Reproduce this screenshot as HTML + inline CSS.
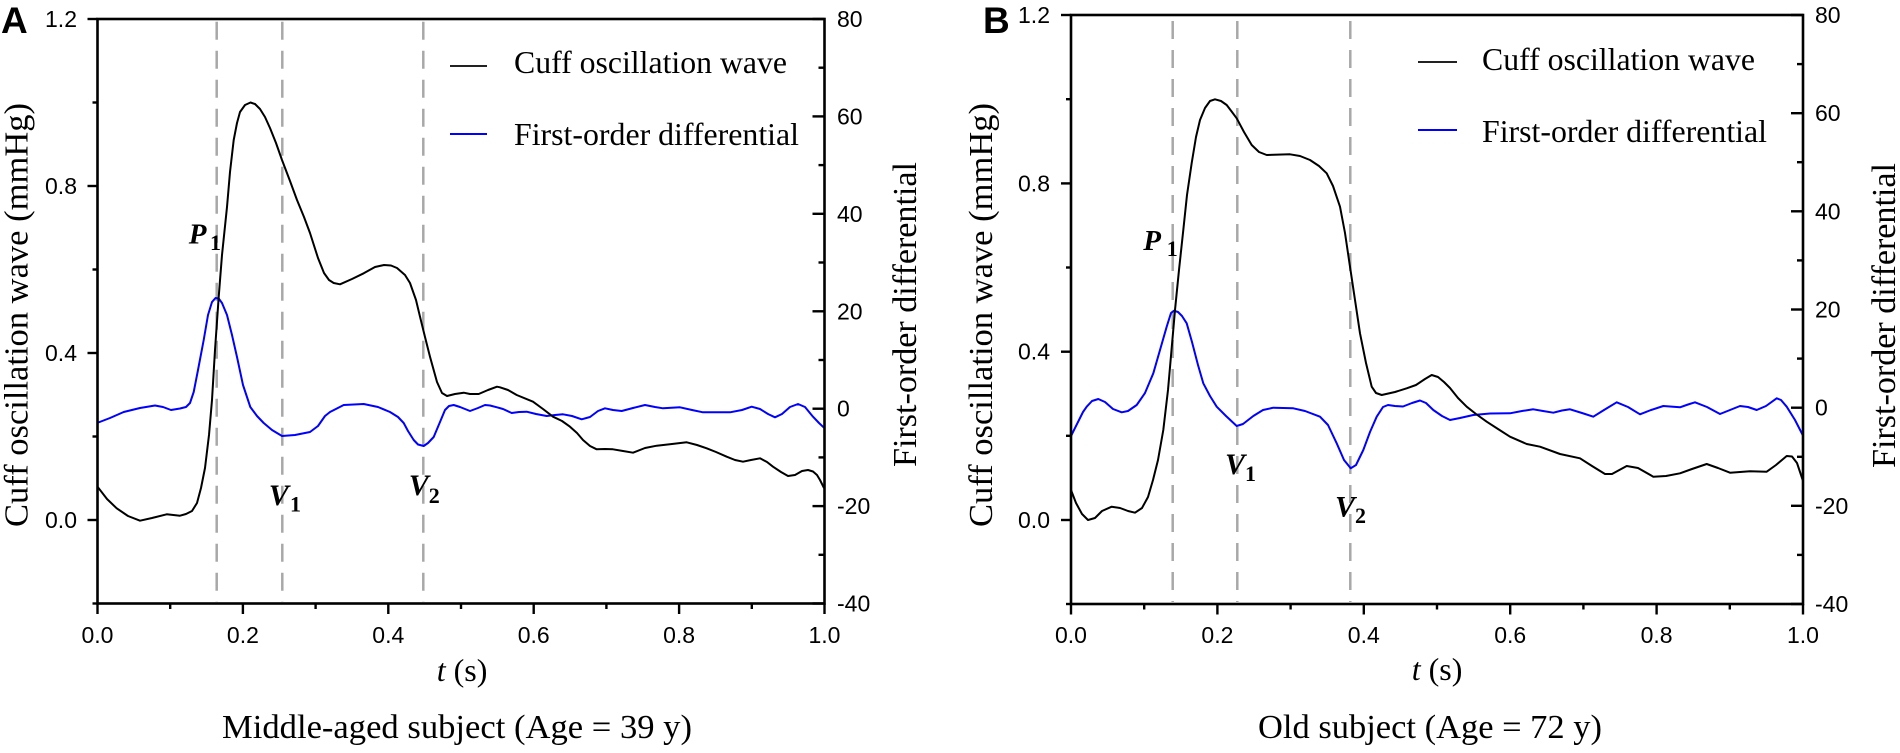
<!DOCTYPE html>
<html><head><meta charset="utf-8"><style>
html,body{margin:0;padding:0;background:#fff;}
svg{display:block;}
.tk{font-family:"Liberation Sans",Arial,sans-serif;font-size:23px;fill:#000;}
.sr{font-family:"Liberation Serif","Times New Roman",serif;fill:#000;}
.lb{font-family:"Liberation Serif","Times New Roman",serif;font-weight:bold;fill:#000;}
</style></head><body>
<svg width="1900" height="753" viewBox="0 0 1900 753" xmlns="http://www.w3.org/2000/svg">
<rect width="1900" height="753" fill="#fff"/>

<!-- ================= PANEL A ================= -->
<g stroke="#a8a8a8" stroke-width="2.5" stroke-dasharray="18 11" fill="none">
<line x1="216.7" y1="21.7" x2="216.7" y2="602"/>
<line x1="282.3" y1="21.7" x2="282.3" y2="602"/>
<line x1="423.3" y1="21.7" x2="423.3" y2="602"/>
</g>
<!-- blue curve A -->
<polyline fill="none" stroke="#0000ff" stroke-width="2" stroke-linejoin="round" points="97,423 110,418 123.7,412 140,408 155,405.5 163,407 171,410 180,408.5 186,407 190,403 193.7,392 198,370 203.7,340 208,315 212,302 215.5,298 218.7,298.5 222,303 227,315 232,335 237,357 243,385 250.3,407 257,416 263.7,423 272,430 282,436 295,435 310,432 318,426 325,416 330,412 343.7,405 363.7,404 378,407 390,412 398,417 403.7,423 408,431 413.7,440 418,444.5 423.7,446 428,443 433.7,437 440,422 445,410 449,406 453.7,405 460,407 470,411 478,408 485,405 490,405.5 497,407.3 503,409 511.7,413 519,412 526.7,411.7 536,414 546.7,416 555,415 563,414.3 572,416 581.7,419.3 590,417 598,411 605,408.3 613,410 621.7,411 633,408 645,405 655,407 663,408.3 680,407.3 692,410 703,412.3 730,412.3 742,410 751.7,406.7 760,409 768,414 775,417.3 782,414 790,407 798,404 805,407 813,416.7 819,423 824,427.7"/>
<!-- black curve A -->
<polyline fill="none" stroke="#000" stroke-width="2" stroke-linejoin="round" points="97.5,486.7 107,499 116.7,508.3 128,516 140,520.7 152,518 166.7,514.3 180,515.7 186,514 192,511 197,503 201,488 205,468 209,435 212,400 215,350 218.7,297 222,255 227,207 230,172 233.7,140 237,123 240,112 245,105 250.5,102.5 255,104 260,109 265,117 270,128 276,143 282,160 290,181 297,200 304,217 310,233 318,258 324,273 329,280 333.7,283 340,284.3 352,279 363.7,273.3 375,267 384,265 391,265.5 397,268 405,275 410,283 416,300 420,316.7 425,337 430,356.7 437,382 442,393 447,396 455,394 463.7,392.7 470,394 478.7,394 488,390 497,386.7 500,387.3 508,390 516.7,395 533,401.7 543,409 553,416.7 562,421 570,426.7 577,433 583,440 590,446 596.7,449.3 605,449 613,449.3 623,451 633,452.7 645,448 656.7,445.7 672,444 686.7,442.3 697,445 706.7,448.3 716,452 726.7,456.7 735,460 743,461.7 751,460 760,458.3 767,462 773,466.7 781,472 788,476 795,475 802,471 808,470 813,471.5 817,475 820,480 824,488"/>
<!-- axes A -->
<g stroke="#000" stroke-width="2.6" fill="none" stroke-linecap="square">
<rect x="97.5" y="19" width="727" height="584.5"/>
</g>
<g stroke="#000" stroke-width="2.4">
<!-- left ticks -->
<line x1="87.5" y1="520" x2="97.5" y2="520"/><line x1="87.5" y1="353" x2="97.5" y2="353"/><line x1="87.5" y1="186" x2="97.5" y2="186"/><line x1="87.5" y1="19" x2="97.5" y2="19"/>
<line x1="92.5" y1="603.5" x2="97.5" y2="603.5"/><line x1="92.5" y1="436.5" x2="97.5" y2="436.5"/><line x1="92.5" y1="269.5" x2="97.5" y2="269.5"/><line x1="92.5" y1="102.5" x2="97.5" y2="102.5"/>
<!-- right ticks inward -->
<line x1="812.5" y1="19" x2="824.5" y2="19"/><line x1="812.5" y1="116.4" x2="824.5" y2="116.4"/><line x1="812.5" y1="213.8" x2="824.5" y2="213.8"/><line x1="812.5" y1="311.3" x2="824.5" y2="311.3"/><line x1="812.5" y1="408.7" x2="824.5" y2="408.7"/><line x1="812.5" y1="506.1" x2="824.5" y2="506.1"/><line x1="812.5" y1="603.5" x2="824.5" y2="603.5"/>
<line x1="818.5" y1="67.7" x2="824.5" y2="67.7"/><line x1="818.5" y1="165.1" x2="824.5" y2="165.1"/><line x1="818.5" y1="262.5" x2="824.5" y2="262.5"/><line x1="818.5" y1="360" x2="824.5" y2="360"/><line x1="818.5" y1="457.4" x2="824.5" y2="457.4"/><line x1="818.5" y1="554.8" x2="824.5" y2="554.8"/>
<!-- bottom ticks -->
<line x1="97.5" y1="603.5" x2="97.5" y2="614"/><line x1="242.9" y1="603.5" x2="242.9" y2="614"/><line x1="388.3" y1="603.5" x2="388.3" y2="614"/><line x1="533.7" y1="603.5" x2="533.7" y2="614"/><line x1="679.1" y1="603.5" x2="679.1" y2="614"/><line x1="824.5" y1="603.5" x2="824.5" y2="614"/>
<line x1="170.2" y1="603.5" x2="170.2" y2="609"/><line x1="315.6" y1="603.5" x2="315.6" y2="609"/><line x1="461" y1="603.5" x2="461" y2="609"/><line x1="606.4" y1="603.5" x2="606.4" y2="609"/><line x1="751.8" y1="603.5" x2="751.8" y2="609"/>
</g>
<!-- tick labels A -->
<g class="tk" text-anchor="end">
<text x="77" y="528">0.0</text><text x="77" y="361">0.4</text><text x="77" y="194">0.8</text><text x="77" y="27">1.2</text>
</g>
<g class="tk">
<text x="837" y="27">80</text><text x="837" y="124.4">60</text><text x="837" y="221.8">40</text><text x="837" y="319.3">20</text><text x="837" y="416.7">0</text><text x="837" y="514.1">-20</text><text x="837" y="611.5">-40</text>
</g>
<g class="tk" text-anchor="middle">
<text x="97.5" y="643">0.0</text><text x="242.9" y="643">0.2</text><text x="388.3" y="643">0.4</text><text x="533.7" y="643">0.6</text><text x="679.1" y="643">0.8</text><text x="824.5" y="643">1.0</text>
</g>
<text x="1" y="33" font-family="Liberation Sans,Arial,sans-serif" font-weight="bold" font-size="37" fill="#000">A</text>
<!-- titles A -->
<text class="sr" font-size="34" transform="translate(27.5,527) rotate(-90)" textLength="424" lengthAdjust="spacingAndGlyphs">Cuff oscillation wave (mmHg)</text>
<text class="sr" font-size="34" transform="translate(916,467) rotate(-90)" textLength="305" lengthAdjust="spacingAndGlyphs">First-order differential</text>
<text class="sr" font-size="32" x="436.7" y="681"><tspan font-style="italic">t</tspan> (s)</text>
<text class="sr" font-size="34" x="222" y="738" textLength="470" lengthAdjust="spacingAndGlyphs">Middle-aged subject (Age = 39 y)</text>
<!-- legend A -->
<line x1="450" y1="66" x2="487" y2="66" stroke="#222" stroke-width="2"/>
<line x1="450" y1="134" x2="487" y2="134" stroke="#0000ff" stroke-width="2"/>
<text class="sr" font-size="32" x="514" y="73" textLength="273" lengthAdjust="spacingAndGlyphs">Cuff oscillation wave</text>
<text class="sr" font-size="32" x="514" y="145" textLength="285" lengthAdjust="spacingAndGlyphs">First-order differential</text>
<!-- annotations A -->
<text class="lb" font-style="italic" font-size="29" x="188.7" y="243.3">P</text><text class="lb" font-size="22" x="210" y="250">1</text>
<text class="lb" font-style="italic" font-size="30" x="268.7" y="505">V</text><text class="lb" font-size="22" x="290" y="511.7">1</text>
<text class="lb" font-style="italic" font-size="30" x="408.7" y="495">V</text><text class="lb" font-size="22" x="428.7" y="503">2</text>

<!-- ================= PANEL B ================= -->
<g stroke="#a8a8a8" stroke-width="2.5" stroke-dasharray="18 11" fill="none">
<line x1="1172.7" y1="21" x2="1172.7" y2="602"/>
<line x1="1237.3" y1="21" x2="1237.3" y2="602"/>
<line x1="1350.3" y1="21" x2="1350.3" y2="602"/>
</g>
<polyline fill="none" stroke="#0000ff" stroke-width="2" stroke-linejoin="round" points="1071,436 1077,424 1083,412 1086.7,406.7 1092,401 1098.3,399 1105,402 1113,409 1121.7,412.3 1128,411 1136.7,405 1145,393 1153.3,373.3 1160,350 1166.7,326.7 1171,313 1174,310.7 1178,312 1182,316 1186.7,323.3 1192,342 1198,365 1203.3,383.3 1210,396 1216.7,406.7 1226,416 1236.7,426 1243,424 1253.3,416 1263,410 1273.3,407.7 1293.3,408.3 1305,411 1320,416.7 1328,425 1336.7,443.3 1344,460 1350.7,468.3 1356,465 1363.3,450 1370,432 1376.7,416.7 1383,407 1388,405 1395,406 1403,406.5 1412,403 1420,400.5 1426,403 1433.3,410 1442,416 1450,420 1460,418 1473.3,415 1490,413.5 1510,413.3 1522,411 1533.3,409.3 1543,411 1553.3,412.7 1562,410.5 1570,409.3 1582,413 1593.3,416.7 1604,410 1616.7,402.3 1628,407 1640,414.3 1651,410 1663.3,406 1680,407.3 1688,404.5 1695,402.3 1707,407 1720,414 1730,410 1740,406 1748,407 1756.7,410 1766,406 1776.7,398.3 1781,400 1786.7,406.7 1795,420 1802.7,435"/>
<polyline fill="none" stroke="#000" stroke-width="2" stroke-linejoin="round" points="1071,490 1076,503 1082,514 1088,520 1095,518 1102,511 1111.7,506.7 1120,508 1128,511 1135,512.7 1142,508 1148,497 1153,480 1158,460 1163.3,430 1168,390 1173,333 1175,310 1179,270 1183.3,230 1187,195 1191.7,163 1196,137 1200,120 1205,108 1210,101 1215,99.3 1221,101 1226.7,105 1232,112 1236.7,118.3 1244,132 1251.7,145 1259,152 1266.7,155 1290,154.3 1300,156 1310,160 1319,166 1326.7,173.3 1333,186 1340,206.7 1345,233 1350,266.7 1355,300 1360,333.3 1366,363 1371.7,386.7 1376,393 1381.7,395 1395,392 1406.7,388.3 1416,385 1425,379 1431.7,375 1438,377 1444,382 1450,388 1458,398 1466.7,406.7 1476,414 1486.7,421.7 1498,429 1510,436.7 1526.7,444 1540,446.7 1560,454 1580,458.3 1592,466 1605,474 1612,474 1626.7,466 1638,468 1653.3,476.7 1666,476 1680,473.3 1692,469 1706.7,464 1718,468 1730,472.7 1750,471.3 1766.7,471.7 1776,465 1786.7,456 1792,456.5 1797,463 1802.7,480"/>
<g stroke="#000" stroke-width="2.6" fill="none" stroke-linecap="square">
<rect x="1071" y="15" width="732" height="589"/>
</g>
<g stroke="#000" stroke-width="2.4">
<line x1="1061" y1="520" x2="1071" y2="520"/><line x1="1061" y1="351.7" x2="1071" y2="351.7"/><line x1="1061" y1="183.4" x2="1071" y2="183.4"/><line x1="1061" y1="15" x2="1071" y2="15"/>
<line x1="1066" y1="604" x2="1071" y2="604"/><line x1="1066" y1="435.8" x2="1071" y2="435.8"/><line x1="1066" y1="267.5" x2="1071" y2="267.5"/><line x1="1066" y1="99.2" x2="1071" y2="99.2"/>
<line x1="1791" y1="15" x2="1803" y2="15"/><line x1="1791" y1="113.2" x2="1803" y2="113.2"/><line x1="1791" y1="211.3" x2="1803" y2="211.3"/><line x1="1791" y1="309.5" x2="1803" y2="309.5"/><line x1="1791" y1="407.7" x2="1803" y2="407.7"/><line x1="1791" y1="505.8" x2="1803" y2="505.8"/><line x1="1791" y1="604" x2="1803" y2="604"/>
<line x1="1797" y1="64.1" x2="1803" y2="64.1"/><line x1="1797" y1="162.2" x2="1803" y2="162.2"/><line x1="1797" y1="260.4" x2="1803" y2="260.4"/><line x1="1797" y1="358.6" x2="1803" y2="358.6"/><line x1="1797" y1="456.8" x2="1803" y2="456.8"/><line x1="1797" y1="554.9" x2="1803" y2="554.9"/>
<line x1="1071" y1="604" x2="1071" y2="614.5"/><line x1="1217.4" y1="604" x2="1217.4" y2="614.5"/><line x1="1363.8" y1="604" x2="1363.8" y2="614.5"/><line x1="1510.2" y1="604" x2="1510.2" y2="614.5"/><line x1="1656.6" y1="604" x2="1656.6" y2="614.5"/><line x1="1803" y1="604" x2="1803" y2="614.5"/>
<line x1="1144.2" y1="604" x2="1144.2" y2="609.5"/><line x1="1290.6" y1="604" x2="1290.6" y2="609.5"/><line x1="1437" y1="604" x2="1437" y2="609.5"/><line x1="1583.4" y1="604" x2="1583.4" y2="609.5"/><line x1="1729.8" y1="604" x2="1729.8" y2="609.5"/>
</g>
<g class="tk" text-anchor="end">
<text x="1050" y="528">0.0</text><text x="1050" y="359.7">0.4</text><text x="1050" y="191.4">0.8</text><text x="1050" y="23">1.2</text>
</g>
<g class="tk">
<text x="1815" y="23">80</text><text x="1815" y="121.2">60</text><text x="1815" y="219.3">40</text><text x="1815" y="317.5">20</text><text x="1815" y="415.7">0</text><text x="1815" y="513.8">-20</text><text x="1815" y="612">-40</text>
</g>
<g class="tk" text-anchor="middle">
<text x="1071" y="643">0.0</text><text x="1217.4" y="643">0.2</text><text x="1363.8" y="643">0.4</text><text x="1510.2" y="643">0.6</text><text x="1656.6" y="643">0.8</text><text x="1803" y="643">1.0</text>
</g>
<text x="983" y="33" font-family="Liberation Sans,Arial,sans-serif" font-weight="bold" font-size="37" fill="#000">B</text>
<text class="sr" font-size="34" transform="translate(992,527) rotate(-90)" textLength="424" lengthAdjust="spacingAndGlyphs">Cuff oscillation wave (mmHg)</text>
<text class="sr" font-size="34" transform="translate(1895,468) rotate(-90)" textLength="305" lengthAdjust="spacingAndGlyphs">First-order differential</text>
<text class="sr" font-size="32" x="1411.7" y="680"><tspan font-style="italic">t</tspan> (s)</text>
<text class="sr" font-size="34" x="1258" y="738" textLength="344" lengthAdjust="spacingAndGlyphs">Old subject (Age = 72 y)</text>
<line x1="1418" y1="62" x2="1457" y2="62" stroke="#222" stroke-width="2"/>
<line x1="1418" y1="130" x2="1457" y2="130" stroke="#0000ff" stroke-width="2"/>
<text class="sr" font-size="32" x="1482" y="70" textLength="273" lengthAdjust="spacingAndGlyphs">Cuff oscillation wave</text>
<text class="sr" font-size="32" x="1482" y="142" textLength="285" lengthAdjust="spacingAndGlyphs">First-order differential</text>
<text class="lb" font-style="italic" font-size="29" x="1143.3" y="250">P</text><text class="lb" font-size="22" x="1166.7" y="256">1</text>
<text class="lb" font-style="italic" font-size="30" x="1225" y="474">V</text><text class="lb" font-size="22" x="1245" y="481">1</text>
<text class="lb" font-style="italic" font-size="30" x="1335" y="516.7">V</text><text class="lb" font-size="22" x="1355" y="523">2</text>
</svg>
</body></html>
